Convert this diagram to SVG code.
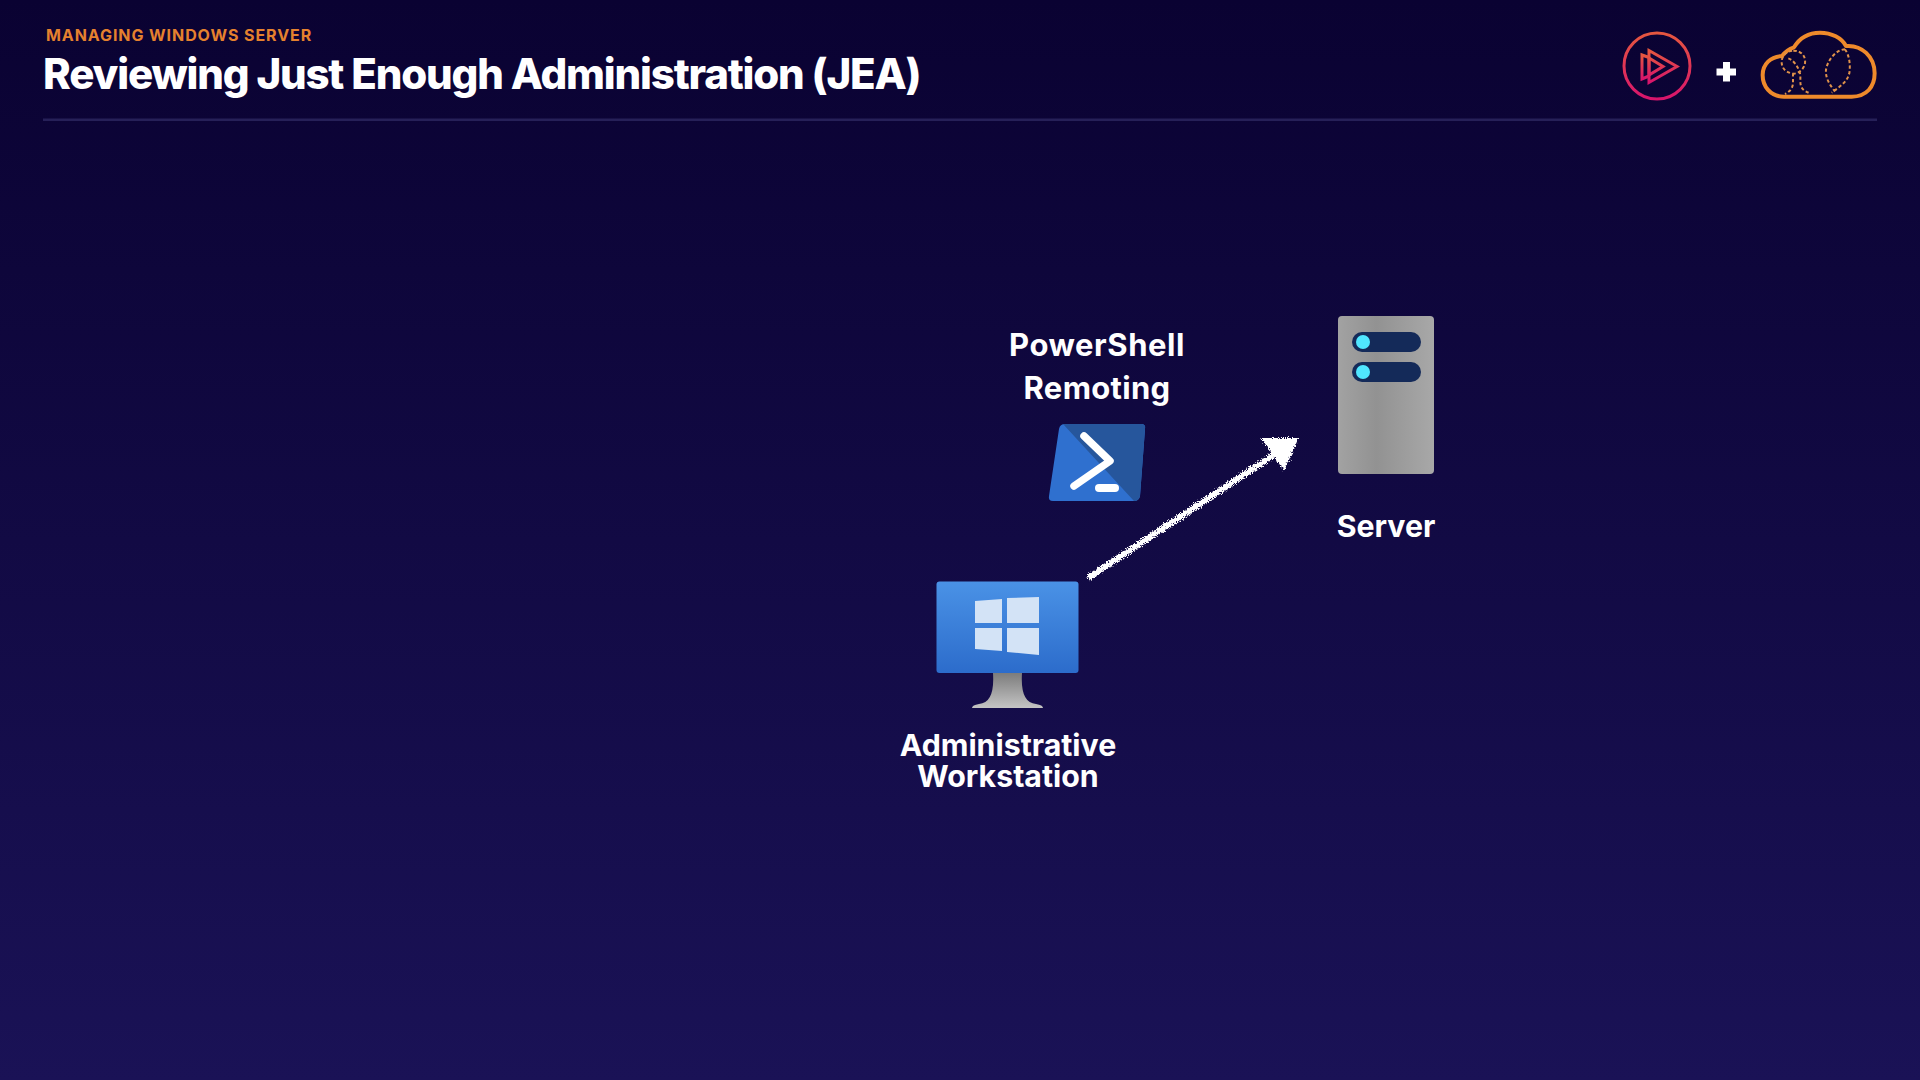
<svg xmlns="http://www.w3.org/2000/svg" width="1920" height="1080" viewBox="0 0 1920 1080">
<style>
text{font-family:Inter,"Liberation Sans",sans-serif;fill:#fff;font-weight:700}
.lbl{font-size:30.300px;text-anchor:middle}
.dash{fill:none;stroke:#e0924a;stroke-width:6;stroke-dasharray:10 7}
</style>
<defs>
<linearGradient id="bg" x1="0" y1="0" x2="0" y2="1"><stop offset="0" stop-color="#0a0232"/><stop offset="1" stop-color="#1a1256"/></linearGradient>
<linearGradient id="ps" x1="0" y1="0" x2="0" y2="1"><stop offset="0" stop-color="#e5573f"/><stop offset="1" stop-color="#d8146c"/></linearGradient>
<linearGradient id="scr" x1="0" y1="0" x2="0" y2="1"><stop offset="0" stop-color="#4a92e6"/><stop offset="1" stop-color="#2c6ccb"/></linearGradient>
<linearGradient id="std" x1="0" y1="0" x2="0" y2="1"><stop offset="0" stop-color="#7c7c7c"/><stop offset="1" stop-color="#c4c4c4"/></linearGradient>
<linearGradient id="srv" x1="0" y1="0" x2="1" y2="0"><stop offset="0" stop-color="#a2a2a2"/><stop offset=".4" stop-color="#929292"/><stop offset="1" stop-color="#a8a8a8"/></linearGradient>
<filter id="chalk" x="-10%" y="-10%" width="120%" height="120%"><feTurbulence type="fractalNoise" baseFrequency="0.8" numOctaves="2" seed="4"/><feDisplacementMap in="SourceGraphic" scale="7" xChannelSelector="R" yChannelSelector="G"/></filter>
</defs>
<rect width="1920" height="1080" fill="url(#bg)"/>
<g id="header">
<text x="46" y="41" font-size="16" letter-spacing=".92" style="fill:#e5812e">MANAGING WINDOWS SERVER</text>
<text x="43" y="89" font-size="42" letter-spacing="-1.18" style="font-weight:800">Reviewing Just Enough Administration (JEA)</text>
<rect x="43" y="118.500" width="1834" height="2.500" fill="#262058"/>
</g>
<g id="logo-play" fill="none" stroke="url(#ps)" stroke-width="3">
<circle cx="1657" cy="66" r="33"/>
<path d="M1649 50.500L1677 66.500L1649 82.500Z"/>
<path d="M1649 57.500L1642 55V79L1649 76M1649 58L1663 66.500L1649 75Z"/>
</g>
<g id="plus"><path d="M1716.500 68.500H1723V62H1730V68.500H1736V75.500H1730V81.500H1723V75.500H1716.500Z" fill="#fff"/></g>
<g id="logo-cloud" transform="translate(1580 10) scale(.3333)">
<path d="M612 260C570 260 548 228 548 195C548 162 572 140 606 138C618 122 630 116 642 112C660 82 690 68 720 68C755 68 785 84 798 108C845 104 884 140 884 190C884 230 860 260 815 260Z" fill="none" stroke="#ee8a2b" stroke-width="12" stroke-linejoin="round"/>
<path class="dash" d="M640 122C665 122 678 140 675 160C672 180 650 195 635 190C610 185 602 165 606 148C610 132 622 124 640 122Z"/>
<path class="dash" d="M625 145C640 150 655 170 660 190C665 215 650 235 690 250M640 190C635 210 650 235 615 252"/>
<path class="dash" d="M795 118C770 118 742 150 738 180C736 205 750 225 765 245M795 118C808 135 812 165 808 190C802 215 780 230 755 248"/>
</g>
<g id="connectors">
<g filter="url(#chalk)" fill="#fff" stroke="#fff">
<line x1="1088" y1="578" x2="1278" y2="452" stroke-width="6"/>
<path d="M1263 439L1297 439L1284 469Z" stroke-width="2"/>
</g>
</g>
<g id="powershell">
<path d="M1065 424H1141Q1146 424 1145 429L1140 496Q1139 501 1134 501H1053Q1048 501 1049 496L1059 429Q1060 424 1065 424Z" fill="#2f70cf"/>
<path d="M1063 424H1141Q1146 424 1145 429L1140 496Q1139 501 1134 501Z" fill="#26569c"/>
<path d="M1084 436L1110 461L1074 486" fill="none" stroke="#fff" stroke-width="7.500" stroke-linecap="round" stroke-linejoin="round"/>
<rect x="1095" y="484" width="24" height="8" rx="4" fill="#fff"/>
<text class="lbl" x="1097" y="356" style="font-size:31px" letter-spacing=".55">PowerShell</text>
<text class="lbl" x="1097" y="399" style="font-size:31px" letter-spacing=".3">Remoting</text>
</g>
<g id="server">
<rect x="1338" y="316" width="96" height="158" rx="4" fill="url(#srv)"/>
<rect x="1352" y="332" width="69" height="20" rx="10" fill="#142a59"/>
<rect x="1352" y="362" width="69" height="20" rx="10" fill="#142a59"/>
<circle cx="1363" cy="342" r="7" fill="#50e6ff"/>
<circle cx="1363" cy="372" r="7" fill="#50e6ff"/>
<text class="lbl" x="1386" y="537">Server</text>
</g>
<g id="workstation">
<path d="M993 673H1022Q1020 703 1036 704Q1043 705 1043 708H972Q972 705 979 704Q995 703 993 673Z" fill="url(#std)"/>
<rect x="936.500" y="581.500" width="142" height="91.500" rx="3" fill="url(#scr)"/>
<g fill="#d3e3f6">
<path d="M975 601L1002 599V623H975Z"/>
<path d="M1007 598L1039 597V623H1007Z"/>
<path d="M975 628H1002V651L975 649Z"/>
<path d="M1007 628H1039V655L1007 652Z"/>
</g>
<text class="lbl" x="1008" y="756">Administrative</text>
<text class="lbl" x="1008" y="787">Workstation</text>
</g>
</svg>
